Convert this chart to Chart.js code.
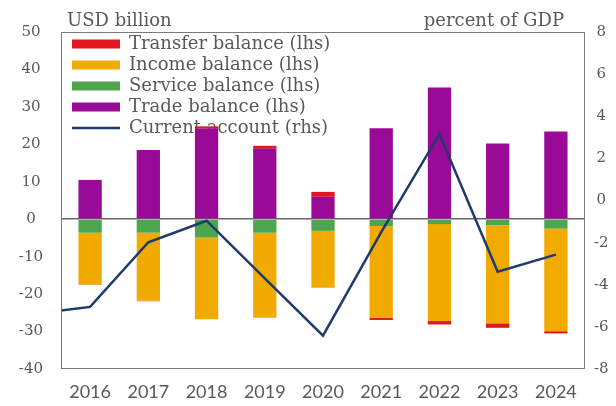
<!DOCTYPE html>
<html>
<head>
<meta charset="utf-8">
<script src="https://cdn.jsdelivr.net/npm/chart.js@4.4.1/dist/chart.umd.min.js"></script>
<style>
    html, body { margin: 0; padding: 0; background: #ffffff; }
    #wrap { width: 616px; height: 406px; }
</style>
</head>
<body>
<div id="wrap"><canvas id="balanceChart" width="616" height="406"></canvas></div>
<script>
// Years on the category axis (2015 only anchors the start of the line)
const years = ['2015', '2016', '2017', '2018', '2019', '2020', '2021', '2022', '2023', '2024'];

// Balance of payments components, USD billion (lhs)
const tradeBalance    = [null, 10.5, 18.5, 24.2, 18.8,   6.0,  24.3,  35.2,  20.2,  23.4];
const serviceBalance  = [null, -3.6, -3.6, -4.9, -3.6,  -3.1,  -1.8,  -1.3,  -1.6,  -2.5];
const incomeBalance   = [null, -13.8, -18.2, -21.8, -22.7, -15.2, -24.5, -25.9, -26.2, -27.4];
const transferBalance = [null, -0.1, -0.1, 0.6, 0.8,   1.3,  -0.6,  -0.9,  -1.2,  -0.6];

// Current account, percent of GDP (rhs)
const currentAccount  = [-5.4, -5.05, -1.98, -0.96, -3.7, -6.42, -1.5, 3.16, -3.38, -2.57];

// Axis ranges and ticks
const lhsTicks = { min: -40, max: 50, step: 10 };
const rhsTicks = { min: -8, max: 8, step: 2 };

const legendOrder = [
    'Transfer balance (lhs)',
    'Income balance (lhs)',
    'Service balance (lhs)',
    'Trade balance (lhs)',
    'Current account (rhs)'
];

const textColor = '#595959';
const serif = "'DejaVu Serif', 'Liberation Serif', serif";

// Frame around the plot area plus the two unit captions
const framePlugin = {
    id: 'plotFrame',
    afterLayout(chart) {
        // keep the legend inside the frame, just off its top-left corner
        chart.legend.top = chart.chartArea.top;
        chart.legend.left = chart.chartArea.left + 8;
    },
    afterDatasetsDraw(chart) {
        const { ctx, chartArea } = chart;
        const l = Math.round(chartArea.left) + 0.5;
        const t = Math.round(chartArea.top) + 0.5;
        const r = Math.round(chartArea.right) - 0.5;
        const b = Math.round(chartArea.bottom) - 0.5;
        ctx.save();
        ctx.strokeStyle = '#7a7a7a';
        ctx.lineWidth = 1;
        ctx.strokeRect(l, t, r - l, b - t);
        ctx.fillStyle = textColor;
        ctx.font = "18px " + serif;
        ctx.textBaseline = 'middle';
        ctx.textAlign = 'left';
        ctx.fillText('USD billion', chartArea.left + 6, 21);
        ctx.textAlign = 'right';
        ctx.fillText('percent of GDP', chartArea.right - 21, 21);
        ctx.restore();
    }
};

const ctx = document.getElementById('balanceChart');
new Chart(ctx, {
    type: 'bar',
    data: {
        labels: years,
        datasets: [
            {
                label: 'Current account (rhs)',
                type: 'line',
                data: currentAccount,
                yAxisID: 'y2',
                borderColor: '#1f3a6e',
                backgroundColor: '#1f3a6e',
                borderWidth: 2.5,
                pointRadius: 0,
                pointStyle: 'line',
                tension: 0,
                order: 0
            },
            {
                label: 'Service balance (lhs)',
                data: serviceBalance,
                backgroundColor: '#4da64d',
                pointStyle: 'rect',
                order: 1
            },
            {
                label: 'Trade balance (lhs)',
                data: tradeBalance,
                backgroundColor: '#990a96',
                pointStyle: 'rect',
                order: 1
            },
            {
                label: 'Income balance (lhs)',
                data: incomeBalance,
                backgroundColor: '#f0aa00',
                pointStyle: 'rect',
                order: 1
            },
            {
                label: 'Transfer balance (lhs)',
                data: transferBalance,
                backgroundColor: '#e2161c',
                pointStyle: 'rect',
                order: 1
            }
        ]
    },
    options: {
        responsive: false,
        animation: false,
        barPercentage: 0.4,
        categoryPercentage: 1.0,
        layout: {
            padding: { top: 32, left: 0, right: 0, bottom: 0 }
        },
        plugins: {
            legend: {
                position: 'chartArea',
                align: 'start',
                labels: {
                    usePointStyle: true,
                    pointStyleWidth: 48,
                    boxHeight: 9,
                    padding: 3,
                    color: textColor,
                    font: { family: serif, size: 18 },
                    sort: (a, b) => legendOrder.indexOf(a.text) - legendOrder.indexOf(b.text)
                }
            },
            tooltip: { enabled: false }
        },
        scales: {
            x: {
                stacked: true,
                min: '2016',
                max: '2024',
                grid: { display: false, drawTicks: false },
                border: { display: false },
                ticks: {
                    color: textColor,
                    padding: 12,
                    font: { family: "Lato, 'Open Sans', sans-serif", size: 18 }
                },
                afterFit: (scale) => { scale.height = 37; }
            },
            y: {
                stacked: true,
                position: 'left',
                min: lhsTicks.min,
                max: lhsTicks.max,
                grid: {
                    drawTicks: false,
                    lineWidth: 1.5,
                    color: (c) => (c.tick && c.tick.value === 0) ? '#666666' : 'rgba(0,0,0,0)'
                },
                border: { display: false },
                ticks: {
                    stepSize: lhsTicks.step,
                    color: textColor,
                    padding: 18,
                    crossAlign: 'center',
                    font: { family: serif, size: 15 }
                },
                afterFit: (scale) => { scale.width = 61; }
            },
            y2: {
                position: 'right',
                min: rhsTicks.min,
                max: rhsTicks.max,
                grid: { display: false, drawTicks: false },
                border: { display: false },
                ticks: {
                    stepSize: rhsTicks.step,
                    color: textColor,
                    padding: 9,
                    crossAlign: 'center',
                    font: { family: serif, size: 15 }
                },
                afterFit: (scale) => { scale.width = 31; }
            }
        }
    },
    plugins: [framePlugin]
});
</script>
</body>
</html>
